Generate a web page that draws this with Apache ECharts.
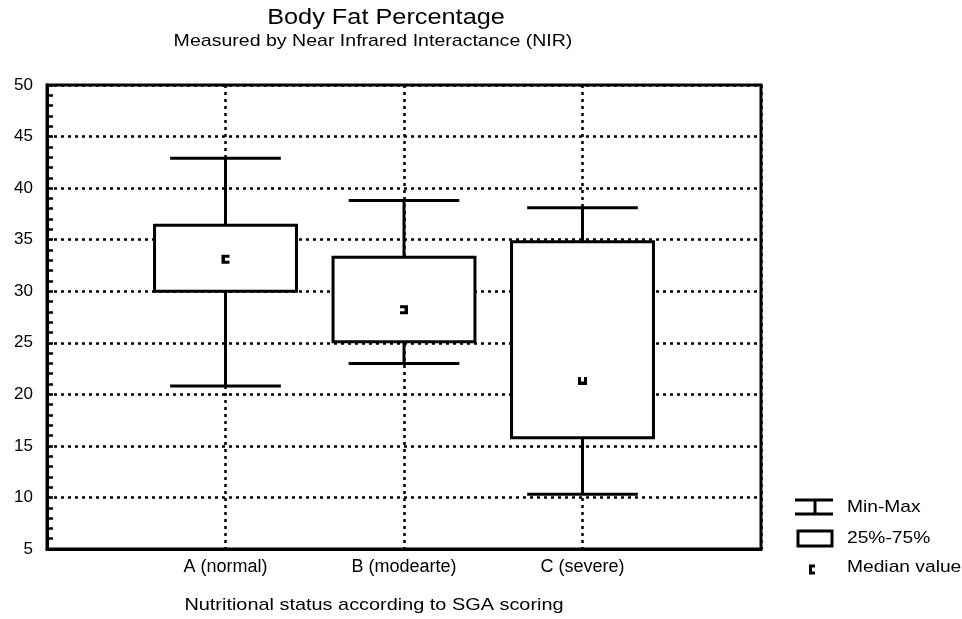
<!DOCTYPE html>
<html>
<head>
<meta charset="utf-8">
<title>Body Fat Percentage</title>
<script src="https://cdn.jsdelivr.net/npm/echarts@6/dist/echarts.min.js"></script>
<style>
  html, body { margin: 0; padding: 0; background: #fff; }
  #chart { width: 962px; height: 619px; }
</style>
</head>
<body>
<div id="chart"></div>
<script>
const categories = ['A (normal)', 'B (modearte)', 'C (severe)'];
const minValues = [20.8, 23.0, 10.3];
const q1Values = [30.0, 25.1, 15.8];
const medianValues = [33.1, 28.2, 21.3];
const q3Values = [36.4, 33.3, 34.8];
const maxValues = [42.9, 38.8, 38.1];
const yMin = 5;
const yMax = 50;
const yStep = 5;

// empty slots at both ends so the categories sit at 1/4, 2/4, 3/4 of the plot
const axisCategories = [''].concat(categories, ['']);

const boxData = categories.map((c, i) => [i + 1, minValues[i], q1Values[i], q3Values[i], maxValues[i]]);
const medianData = categories.map((c, i) => [i + 1, medianValues[i]]);

const black = '#000';
const dotted = { color: black, width: 2.5, type: [3, 4] };
const markerRotate = [0, 180, 90];

function renderBox(params, api) {
  const x = api.value(0);
  const lo = api.coord([x, api.value(1)]);
  const q1 = api.coord([x, api.value(2)]);
  const q3 = api.coord([x, api.value(3)]);
  const hi = api.coord([x, api.value(4)]);
  const band = api.size([1, 0])[0];
  const boxW = band * 0.795;
  const capW = band * 0.62;
  const cx = lo[0];
  const stroke = { stroke: black, lineWidth: 3 };
  return {
    type: 'group',
    children: [
      { type: 'line', shape: { x1: cx, y1: hi[1], x2: cx, y2: lo[1] }, style: stroke },
      { type: 'line', shape: { x1: cx - capW / 2, y1: hi[1], x2: cx + capW / 2, y2: hi[1] }, style: stroke },
      { type: 'line', shape: { x1: cx - capW / 2, y1: lo[1], x2: cx + capW / 2, y2: lo[1] }, style: stroke },
      {
        type: 'rect',
        shape: { x: cx - boxW / 2, y: q3[1], width: boxW, height: q1[1] - q3[1] },
        style: { fill: '#fff', stroke: black, lineWidth: 3 }
      }
    ]
  };
}

// scanned original is stretched sideways, so the free texts get a scaleX
function label(text, x, y, size, scale, align) {
  return {
    type: 'text',
    x: x,
    y: y,
    scaleX: scale,
    style: {
      text: text,
      fill: black,
      font: size + 'px "Liberation Sans", Arial, sans-serif',
      textAlign: align || 'center',
      textVerticalAlign: 'middle'
    }
  };
}

const chart = echarts.init(document.getElementById('chart'));

chart.setOption({
  backgroundColor: '#fff',
  animation: false,
  grid: {
    left: 47,
    right: 201,
    top: 85,
    bottom: 70,
    show: true,
    borderColor: black,
    borderWidth: 3,
    backgroundColor: 'transparent'
  },
  xAxis: {
    type: 'category',
    data: axisCategories,
    boundaryGap: false,
    axisLine: { lineStyle: { color: black, width: 3 } },
    axisTick: { show: false },
    axisLabel: {
      color: black,
      fontFamily: 'Liberation Sans',
      fontSize: 18,
      margin: 9
    },
    splitLine: { show: true, lineStyle: dotted }
  },
  yAxis: {
    type: 'value',
    min: yMin,
    max: yMax,
    interval: yStep,
    axisLine: { show: true, lineStyle: { color: black, width: 3 } },
    axisTick: { show: true, inside: true, length: 6, lineStyle: { color: black, width: 2.5 } },
    minorTick: { show: true, splitNumber: 5, length: 6, lineStyle: { color: black, width: 2.5 } },
    axisLabel: {
      color: black,
      fontFamily: 'Liberation Sans',
      fontSize: 17,
      margin: 14
    },
    splitLine: { show: true, lineStyle: dotted }
  },
  series: [
    {
      name: 'Min-Max',
      type: 'custom',
      renderItem: renderBox,
      encode: { x: 0, y: [1, 2, 3, 4] },
      data: boxData,
      z: 3
    },
    {
      name: 'Median value',
      type: 'scatter',
      data: medianData,
      symbol: 'path://M0,0H8V3H3.5V6H8V9H0Z',
      symbolSize: [8, 9],
      symbolRotate: (val, params) => markerRotate[params.dataIndex],
      itemStyle: { color: black, opacity: 1 },
      z: 5
    }
  ],
  graphic: [
    label('Body Fat Percentage', 386, 18, 22, 1.15),
    label('Measured by Near Infrared Interactance (NIR)', 373, 41, 17, 1.15),
    label('Nutritional status according to SGA scoring', 374, 605, 17, 1.17),

    // legend
    { type: 'line', shape: { x1: 795, y1: 500, x2: 833, y2: 500 }, style: { stroke: black, lineWidth: 3 } },
    { type: 'line', shape: { x1: 795, y1: 514, x2: 833, y2: 514 }, style: { stroke: black, lineWidth: 3 } },
    { type: 'line', shape: { x1: 815, y1: 500, x2: 815, y2: 514 }, style: { stroke: black, lineWidth: 3 } },
    label('Min-Max', 847, 507, 17, 1.13, 'left'),

    { type: 'rect', shape: { x: 798, y: 531, width: 34, height: 15 }, style: { fill: '#fff', stroke: black, lineWidth: 3 } },
    label('25%-75%', 847, 538, 17, 1.13, 'left'),

    { type: 'polyline', shape: { points: [[815, 566], [810.5, 566], [810.5, 573], [815, 573]] }, style: { fill: null, stroke: black, lineWidth: 3 } },
    label('Median value', 847, 567, 17, 1.13, 'left')
  ]
});
</script>
</body>
</html>
